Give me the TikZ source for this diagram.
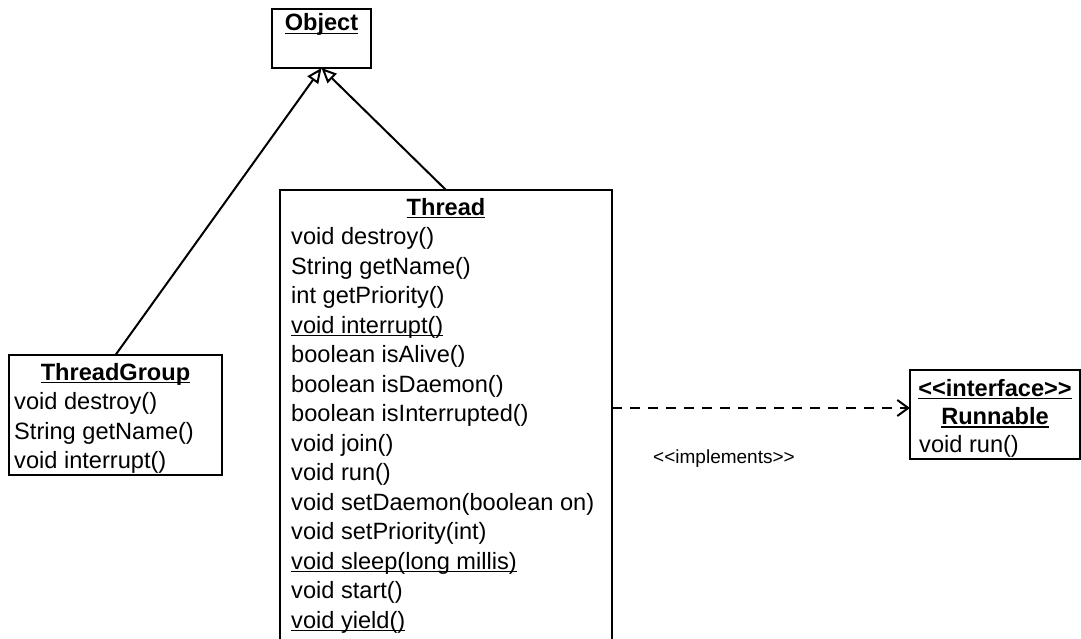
\documentclass[tikz,border=0pt]{standalone}
\usepackage{fontspec}
\setmainfont{Liberation Sans}[Ligatures=TeXOff]
\usetikzlibrary{arrows.meta}
% underline drawn as a rule, so its weight follows the large type
\newcommand\myul[1]{\setbox0\hbox{#1}\rlap{\rule[-3.4pt]{\wd0}{1.8pt}}\box0}
\begin{document}
\begin{tikzpicture}[x=1pt,y=-1pt,
  box/.style={draw, line width=2pt, rectangle, inner sep=0pt, outer sep=0pt, anchor=north west},
  txt/.style={inner sep=0pt, anchor=base west, font=\fontsize{23.6}{28}\selectfont},
  ttl/.style={inner sep=0pt, anchor=base, font=\fontsize{23.6}{28}\selectfont\bfseries},
  lbl/.style={inner sep=0pt, anchor=base, font=\fontsize{19}{22}\selectfont},
  gen/.style={line width=2pt, -{Triangle[open, length=15pt, width=13pt, line width=2pt]}},
  impl/.style={line width=2pt, dash pattern=on 10pt off 8pt, -{Straight Barb[length=11pt, width=16pt, line width=2pt]}},
  ]
\useasboundingbox (0,0) rectangle (1081,639);
\fill[white] (0,0) rectangle (1081,639);
\clip (0,0) rectangle (1081,639);

% Object
\node[box, minimum width=99pt, minimum height=59pt] (obj) at (272,9) {};
\node[ttl] (objT) at (321.5,31) {\myul{Object}};

% ThreadGroup
\node[box, minimum width=213pt, minimum height=120pt] (tg) at (9,355) {};
\node[ttl] (tgT) at (115.5,380) {\myul{ThreadGroup}};
\foreach \m [count=\i] in {void destroy(), String getName(), void interrupt()}
  \node[txt] (tgm\i) at (14,380+29.5*\i) {\m};

% Thread (runs past the lower edge)
\node[box, minimum width=332pt, minimum height=470pt] (thread) at (280,190) {};
\node[ttl] (threadT) at (446,215) {\myul{Thread}};
\foreach \m [count=\i] in {
    void destroy(), String getName(), int getPriority(), {\myul{void interrupt()}},
    boolean isAlive(), boolean isDaemon(), boolean isInterrupted(), void join(),
    void run(), void setDaemon(boolean on), void setPriority(int),
    {\myul{void sleep(long millis)}}, void start(), {\myul{void yield()}}}
  \node[txt] (thm\i) at (291,215+29.5*\i) {\m};

% Runnable
\node[box, minimum width=170pt, minimum height=89pt] (run) at (910,370) {};
\node[ttl] (runS) at (995,396) {\myul{<<interface>>}};
\node[ttl] (runT) at (995,424.5) {\myul{Runnable}};
\node[txt] (runm1) at (919,452.5) {void run()};

% relations
\draw[gen] (tg.north) -- (obj.south);
\draw[gen] (thread.north) -- (obj.south);
\coordinate (implrow) at (0,408);
\draw[impl] (thread.east |- implrow) -- (run.west |- implrow);
\node[lbl] (implL) at (724,463) {<<implements>>};
\end{tikzpicture}
\end{document}
